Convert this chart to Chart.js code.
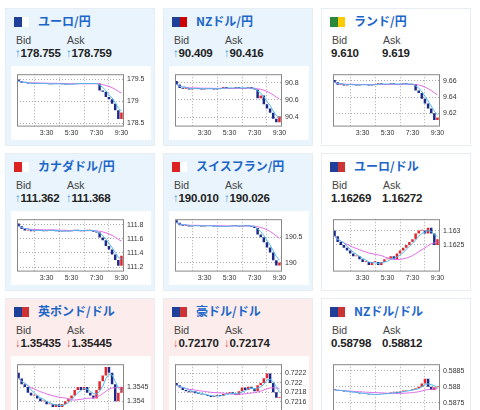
<!DOCTYPE html><html><head><meta charset="utf-8">
<script src="https://cdn.jsdelivr.net/npm/chart.js@4"></script>
<style>
body{margin:0;width:480px;height:410px;overflow:hidden;background:#fff;font-family:Arial,"Noto Sans CJK JP",sans-serif;position:relative}
.p{position:absolute;width:150px;height:138px;box-sizing:border-box;border:1px solid #e6eef4}
.t{position:absolute;left:32px;top:3px;font:bold 12px "Noto Sans CJK JP";color:#1d66c9}
.f{position:absolute;left:8px;top:8px;width:15px;height:10px}
.l{position:absolute;top:25px;font-size:10.5px;color:#444}
.v{position:absolute;top:38px;font-size:11.5px;font-weight:bold;color:#222;letter-spacing:-0.2px}
.u{color:#3a9ae0;font-weight:normal}.d{color:#e05050;font-weight:normal}
.cb{position:absolute;left:5px;top:57px;width:140px;height:74px;background:#fff}
</style></head><body>
<script>
const times=['1:15','1:30','1:45','2:00','2:15','2:30','2:45','3:00','3:15','3:30','3:45','4:00','4:15','4:30','4:45','5:00','5:15','5:30','5:45','6:00','6:15','6:30','6:45','7:00','7:15','7:30','7:45','8:00','8:15','8:30','8:45','9:00','9:15','9:30'];
const tickLabels=['3:30','5:30','7:30','9:30'];
const names=['ユーロ/円','NZドル/円','ランド/円','カナダドル/円','スイスフラン/円','ユーロ/ドル','英ポンド/ドル','豪ドル/ドル','NZドル/ドル'];
const bids=['178.755','90.409','9.610','111.362','190.010','1.16269','1.35435','0.72170','0.58798'];
const asks=['178.759','90.416','9.619','111.368','190.026','1.16272','1.35445','0.72174','0.58812'];
const dirs=['u','u','','u','u','','d','d',''];
const yTicks=[[179.5,179,178.5],[90.8,90.6,90.4],[9.66,9.64,9.62],[111.8,111.6,111.4,111.2],[190.5,190],[1.163,1.1625],[1.3545,1.354,1.3535],[0.7222,0.722,0.7218,0.7216],[0.5885,0.588,0.5875]];
const yRanges=[[178.45,179.62],[90.3,90.9],[9.605,9.668],[111.15,111.88],[189.85,190.85],[1.1616,1.1634],[1.3535,1.3553],[0.7213,0.7224],[0.5871,0.5887]];
const closes=[
[179.46,179.42,179.43,179.41,179.40,179.42,179.41,179.40,179.41,179.40,179.39,179.40,179.41,179.40,179.39,179.38,179.39,179.40,179.41,179.42,179.41,179.40,179.41,179.42,179.40,179.41,179.25,179.22,179.10,179.05,178.95,178.80,178.60,178.75],
[90.78,90.74,90.73,90.74,90.72,90.73,90.74,90.73,90.72,90.73,90.74,90.73,90.72,90.73,90.74,90.75,90.74,90.73,90.74,90.75,90.74,90.73,90.74,90.75,90.73,90.72,90.62,90.65,90.55,90.50,90.45,90.38,90.34,90.41],
[9.658,9.655,9.656,9.654,9.655,9.656,9.655,9.654,9.655,9.656,9.655,9.654,9.655,9.656,9.657,9.656,9.655,9.656,9.657,9.656,9.655,9.656,9.657,9.656,9.655,9.656,9.648,9.645,9.638,9.632,9.626,9.620,9.612,9.615],
[111.78,111.74,111.72,111.73,111.71,111.72,111.73,111.72,111.71,111.72,111.73,111.72,111.71,111.70,111.71,111.72,111.71,111.72,111.73,111.72,111.71,111.72,111.73,111.72,111.70,111.69,111.62,111.58,111.50,111.45,111.38,111.30,111.22,111.36],
[190.78,190.73,190.72,190.73,190.71,190.72,190.73,190.72,190.71,190.72,190.73,190.72,190.71,190.70,190.71,190.72,190.71,190.72,190.73,190.72,190.71,190.72,190.73,190.72,190.70,190.68,190.55,190.50,190.40,190.30,190.20,190.05,189.95,190.01],
[1.1628,1.1626,1.1625,1.1624,1.1623,1.1622,1.1621,1.1621,1.1620,1.1619,1.1619,1.1618,1.1619,1.1619,1.1618,1.1619,1.1620,1.1620,1.1621,1.1620,1.1622,1.1623,1.1624,1.1625,1.1626,1.1627,1.1629,1.1630,1.1630,1.1629,1.1631,1.1629,1.1625,1.1627],
[1.3548,1.3546,1.3545,1.3543,1.3542,1.3542,1.3541,1.3540,1.3540,1.3539,1.3539,1.3538,1.3539,1.3538,1.3539,1.3540,1.3541,1.3542,1.3544,1.3545,1.3544,1.3545,1.3543,1.3542,1.3541,1.3544,1.3547,1.3549,1.3552,1.3550,1.3546,1.3540,1.3543,1.3545],
[0.72195,0.72190,0.72185,0.72182,0.72180,0.72182,0.72178,0.72176,0.72175,0.72174,0.72172,0.72170,0.72172,0.72174,0.72172,0.72176,0.72178,0.72180,0.72176,0.72174,0.72182,0.72190,0.72185,0.72192,0.72188,0.72182,0.72195,0.72200,0.72210,0.72220,0.72200,0.72180,0.72168,0.72170],
[0.58790,0.58788,0.58787,0.58785,0.58784,0.58783,0.58782,0.58780,0.58779,0.58778,0.58777,0.58776,0.58775,0.58776,0.58777,0.58778,0.58780,0.58778,0.58782,0.58784,0.58780,0.58785,0.58788,0.58790,0.58789,0.58792,0.58795,0.58800,0.58810,0.58825,0.58800,0.58790,0.58798,0.58798]];
const bgs=['#e9f4fc','#e9f4fc','#fff','#e9f4fc','#e9f4fc','#fff','#fcecec','#fcecec','#fff'];
const flags=[['#1f3f99','#fff'],['#1f3f99','#c00'],['#2a8a3a','#ffcc00'],['#d22','#fff'],['#d22','#fff'],['#1f3f99','#c33'],['#1f3f99','#c33'],['#1f3f99','#c33'],['#1f3f99','#c33']];
function ma(a,n){return a.map((_,i)=>{const s=a.slice(Math.max(0,i-n+1),i+1);return s.reduce((x,y)=>x+y,0)/s.length;});}
const frame={id:'frame',afterDraw(c){const a=c.chartArea,x=c.ctx;x.save();x.strokeStyle='#888';x.lineWidth=1;x.strokeRect(a.left+.5,a.top+.5,a.right-a.left,a.bottom-a.top);x.restore();}};
names.forEach((nm,i)=>{
 const col=i%3,row=Math.floor(i/3);
 const L=5+col*158,T=8+row*145;
 const p=document.createElement('div');p.className='p';p.style.left=L+'px';p.style.top=T+'px';p.style.background=bgs[i];
 const ar=dirs[i]?`<span class="${dirs[i]}">${dirs[i]=='u'?'↑':'↓'}</span>`:'';
 p.innerHTML=`<div class="f" style="background:linear-gradient(90deg,${flags[i][0]} 55%,${flags[i][1]} 55%)"></div><div class="t">${nm}</div>
 <div class="l" style="left:10px">Bid</div><div class="l" style="left:61px">Ask</div>
 <div class="v" style="left:9px">${ar}${bids[i]}</div><div class="v" style="left:60px">${ar}${asks[i]}</div>
 <div class="cb"><canvas width="140" height="74"></canvas></div>`;
 document.body.appendChild(p);
 const c=closes[i],opens=c.map((v,k)=>k?c[k-1]:v+(c[1]-c[0])*-1);
 const cols=c.map((v,k)=>v>=opens[k]?'#e3262c':'#1b2a8a');
 new Chart(p.querySelector('canvas'),{data:{labels:times,datasets:[
  {type:'line',data:ma(c,4),borderColor:'#4fb8ee',borderWidth:1,pointRadius:0,order:0},
  {type:'line',data:ma(c,16),borderColor:'#e06de8',borderWidth:1,pointRadius:0,order:0},
  {type:'bar',data:c.map((v,k)=>[opens[k],v===opens[k]?v+(yRanges[i][1]-yRanges[i][0])*0.015:v]),backgroundColor:cols,barPercentage:0.8,categoryPercentage:1,order:1}]},
 options:{responsive:false,animation:false,plugins:{legend:{display:false},tooltip:{enabled:false}},
  layout:{padding:{left:6,top:6,right:2,bottom:0}},
  scales:{x:{grid:{color:'#aaa',drawTicks:false},border:{display:false,dash:[1,2]},
    ticks:{autoSkip:false,maxRotation:0,font:{size:7},color:'#333',padding:3,callback:(v,k)=>tickLabels.includes(times[v])?times[v]:''},
    afterBuildTicks:s=>{s.ticks=s.ticks.filter(t=>tickLabels.includes(times[t.value]));}},
   y:{position:'right',min:yRanges[i][0],max:yRanges[i][1],grid:{color:'#aaa',drawTicks:false},border:{display:false,dash:[1,2]},
    ticks:{font:{size:7},color:'#333',padding:4,callback:v=>String(+v.toFixed(5))},afterBuildTicks:s=>{s.ticks=yTicks[i].map(v=>({value:v}));},afterFit:s=>{s.width=26;}}}},
 plugins:[frame]});
});
</script></body></html>
